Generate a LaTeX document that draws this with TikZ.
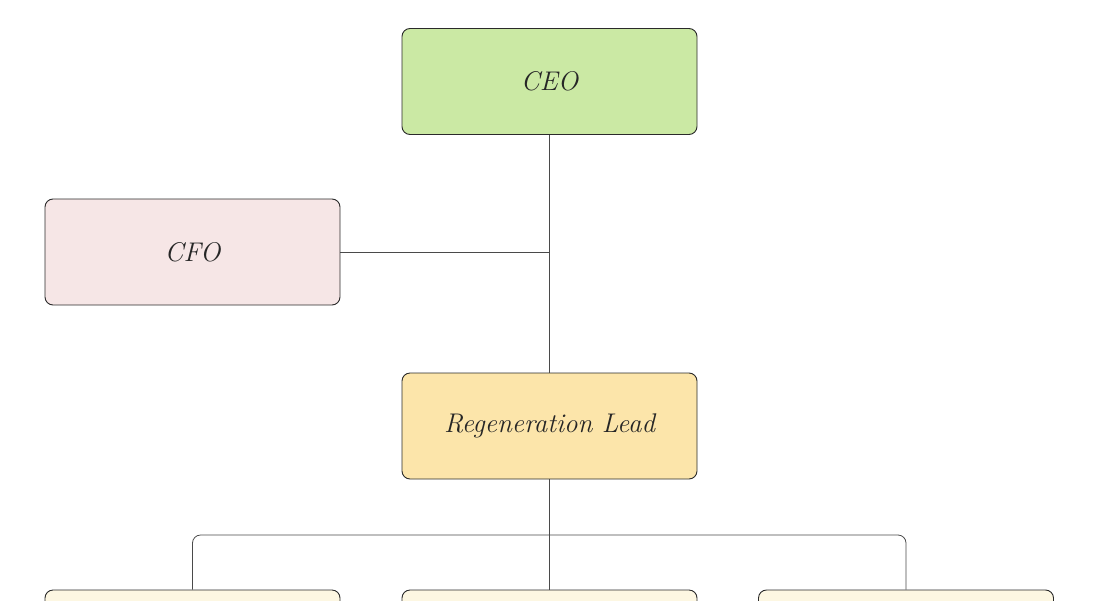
\documentclass[tikz,border=0pt]{standalone}
\usepackage{tikz}
\definecolor{ceogreen}{HTML}{CBE9A4}
\definecolor{cfopink}{HTML}{F6E6E6}
\definecolor{leadyellow}{HTML}{FCE5AA}
\definecolor{teamcream}{HTML}{FDF7E2}
\definecolor{edge}{HTML}{2A2A2A}
\begin{document}
\begin{tikzpicture}[x=1pt,y=-1pt,
  orgbox/.style={draw=edge, line width=0.9pt, rounded corners=8pt, minimum width=295pt, minimum height=106pt, inner sep=0pt, font=\fontsize{27}{32}\selectfont\itshape, text=black!85},
  conn/.style={draw=edge!85, line width=0.8pt}]
\useasboundingbox (0,0) rectangle (1095,600);
\clip (0,0) rectangle (1095,600);
\node[orgbox, fill=ceogreen] (ceo) at (549.5,81.5) {CEO};
\node[orgbox, fill=cfopink] (cfo) at (192.5,252) {CFO};
\node[orgbox, fill=leadyellow] (lead) at (549.5,426) {Regeneration Lead};
\node[orgbox, fill=teamcream] (t1) at (192.5,643) {};
\node[orgbox, fill=teamcream] (t2) at (549.5,643) {};
\node[orgbox, fill=teamcream] (t3) at (906,643) {};
\coordinate (bus) at (549.5,535);
\draw[conn] (ceo.south) -- (lead.north);
\draw[conn] (cfo.east) -- (cfo.east -| ceo.south);
\draw[conn] (lead.south) -- (t2.north);
\draw[conn, rounded corners=8pt] (t1.north) |- (bus) -| (t3.north);
\end{tikzpicture}
\end{document}
